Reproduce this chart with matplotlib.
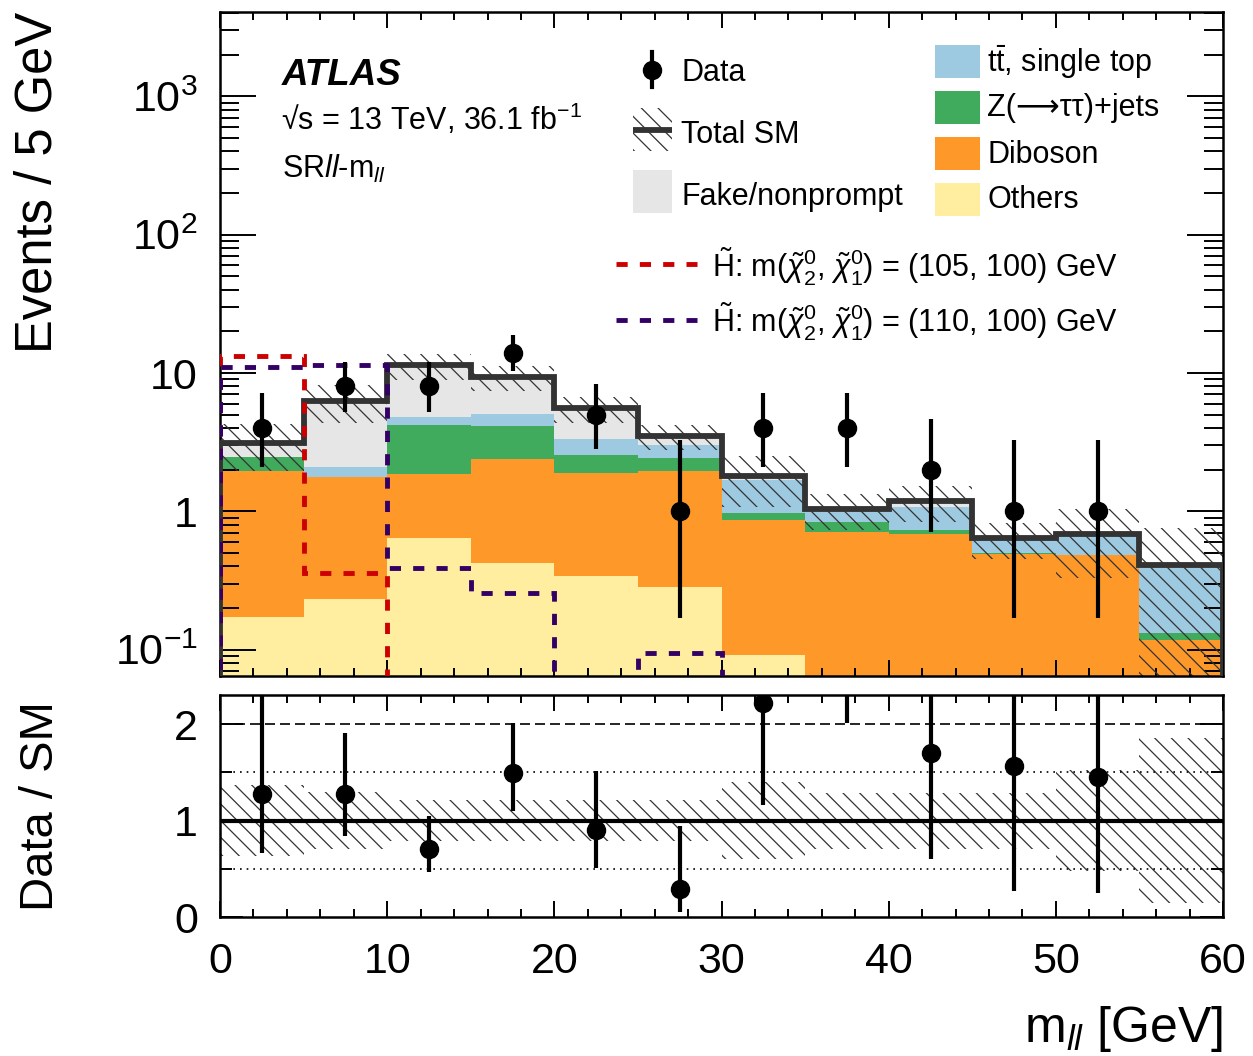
import numpy as np
import matplotlib
matplotlib.use('Agg')
import matplotlib.pyplot as plt
from matplotlib.patches import Rectangle
from matplotlib.ticker import FixedLocator, FixedFormatter, MultipleLocator, LogLocator, NullFormatter

plt.rcParams['font.family'] = ['Liberation Sans', 'DejaVu Sans']
plt.rcParams['mathtext.fontset'] = 'custom'
plt.rcParams['mathtext.rm'] = 'Liberation Sans'
plt.rcParams['mathtext.it'] = 'Liberation Sans:italic'
plt.rcParams['mathtext.bf'] = 'Liberation Sans:bold'
plt.rcParams['hatch.linewidth'] = 0.9

# --- data ---
edges = np.arange(0, 65, 5)  # m_ll bins [GeV]

others  = [0.171, 0.233, 0.64, 0.42, 0.34, 0.285, 0.09, 0.04, 0.04, 0.03, 0.03, 0.02]
diboson = [1.80, 1.55, 1.22, 1.97, 1.56, 1.68, 0.775, 0.665, 0.65, 0.46, 0.45, 0.096]
zjets   = [0.51, 0.0, 2.35, 1.77, 0.67, 0.45, 0.11, 0.13, 0.04, 0.005, 0.005, 0.015]
ttbar   = [0.0, 0.30, 0.62, 0.89, 0.75, 0.60, 0.70, 0.19, 0.35, 0.145, 0.205, 0.279]
fakes   = [0.65, 4.17, 6.52, 4.30, 2.23, 0.48, 0.125, 0.015, 0.10, 0.0, 0.0, 0.0]
sm_rel_unc = [0.37, 0.30, 0.21, 0.21, 0.21, 0.21, 0.40, 0.29, 0.29, 0.29, 0.52, 0.85]

data        = [4, 8, 8, 14, 5, 1, 4, 4, 2, 1, 1, 0]
data_err_lo = [1.91, 2.76, 2.76, 3.69, 2.16, 0.83, 1.91, 1.91, 1.29, 0.83, 0.83, 0.0]
data_err_hi = [3.16, 3.94, 3.94, 4.83, 3.38, 2.30, 3.16, 3.16, 2.64, 2.30, 2.30, 1.84]

sig_105 = [13.3, 0.358, 0, 0, 0, 0, 0, 0, 0, 0, 0, 0]
sig_110 = [11.1, 11.5, 0.391, 0.258, 0, 0.094, 0, 0, 0, 0, 0, 0]

# --- style ---
C_OTHERS = "#FFEDA0"
C_DIBOSON = "#FE9929"
C_ZJETS = "#41AB5D"
C_TTBAR = "#9ECAE1"
C_FAKES = "#E6E6E6"
C_TOTAL = "#333333"
C_SIG1 = "#CC0000"
C_SIG2 = "#330066"
FLOOR = 1e-3
HATCH = '\\\\'

centers = (edges[:-1] + edges[1:]) / 2
layers = [(others, C_OTHERS), (diboson, C_DIBOSON), (zjets, C_ZJETS),
          (ttbar, C_TTBAR), (fakes, C_FAKES)]
total = np.sum([np.array(l) for l, _ in layers], axis=0)
rel = np.array(sm_rel_unc)
data = np.array(data, dtype=float)
lo = np.array(data_err_lo)
hi = np.array(data_err_hi)
has_data = data > 0

fig = plt.figure(figsize=(12.53, 10.56), dpi=100)
ax = fig.add_axes([0.1756, 0.3598, 0.8005, 0.6288])
axr = fig.add_axes([0.1756, 0.1316, 0.8005, 0.2102])

# ===== main panel =====
bottom = np.full(len(total), FLOOR)
for vals, col in layers:
    top = bottom + np.array(vals)
    ax.stairs(top, edges, baseline=bottom, fill=True, color=col, lw=0, zorder=1)
    bottom = top

ax.stairs(total * (1 + rel), edges, baseline=total * (1 - rel), fill=True,
          facecolor='none', edgecolor=C_TOTAL, hatch=HATCH, lw=0, zorder=2)
ax.stairs(total, edges, baseline=FLOOR, color=C_TOTAL, lw=4.2, zorder=3)

for sig, col in [(sig_105, C_SIG1), (sig_110, C_SIG2)]:
    s = np.where(np.array(sig) > 0, sig, FLOOR)
    ax.stairs(s, edges, baseline=FLOOR, color=col, lw=3.5,
              linestyle=(0, (2.3, 2.5)), zorder=4)

ax.errorbar(centers[has_data], data[has_data],
            yerr=[lo[has_data], hi[has_data]], fmt='o', color='black',
            ms=13, elinewidth=3, capsize=0, zorder=6)

ax.set_yscale('log')
ax.set_xlim(0, 60)
ax.set_ylim(0.0645, 4070)
ax.yaxis.set_major_locator(FixedLocator([0.1, 1, 10, 100, 1000]))
ax.yaxis.set_major_formatter(FixedFormatter(['10$^{-1}$', '1', '10', '10$^{2}$', '10$^{3}$']))
ax.yaxis.set_minor_locator(LogLocator(base=10, subs=np.arange(2, 10), numticks=20))
ax.yaxis.set_minor_formatter(NullFormatter())
ax.xaxis.set_major_locator(MultipleLocator(10))
ax.xaxis.set_minor_locator(MultipleLocator(2))
ax.tick_params(which='both', direction='in', top=True, right=True, width=1.4)
ax.tick_params(axis='y', which='major', length=26, labelsize=31, pad=16)
ax.tick_params(axis='y', which='minor', length=13.5)
ax.tick_params(axis='x', which='major', length=11.5, labelbottom=False)
ax.tick_params(axis='x', which='minor', length=5.8)
for sp in ax.spines.values():
    sp.set_linewidth(1.8)
ax.set_ylabel('Events / 5 GeV', fontsize=36.5, loc='top')
ax.yaxis.set_label_coords(-0.157, 1.0)

# labels
ax.text(0.0618, 0.890, 'ATLAS', transform=ax.transAxes, fontsize=26.5,
        fontweight='bold', fontstyle='italic', va='baseline')
ax.text(0.061, 0.822, '√s = 13 TeV, 36.1 fb$^{-1}$', transform=ax.transAxes,
        fontsize=22, va='baseline')
ax.text(0.062, 0.750, r'SR$\mathit{ll}$-m$_{\mathit{ll}}$', transform=ax.transAxes,
        fontsize=22, va='baseline')

# legend, drawn by hand to match the layout
LFS = 22
tx = ax.transAxes
ax.plot([0.4307], [0.9127], 'o', color='black', ms=13, transform=tx, clip_on=False, zorder=7)
ax.plot([0.4307, 0.4307], [0.8870, 0.9398], color='black', lw=3, transform=tx, clip_on=False, zorder=7)
ax.text(0.4596, 0.8961, 'Data', transform=tx, fontsize=LFS, va='baseline')

ax.add_patch(Rectangle((0.4118, 0.7907), 0.0389, 0.0648, transform=tx, facecolor='none',
                       edgecolor=C_TOTAL, hatch=HATCH, lw=0, clip_on=False, zorder=7))
ax.plot([0.4118, 0.4507], [0.8223, 0.8223], color=C_TOTAL, lw=4.2, transform=tx,
        clip_on=False, zorder=7, solid_capstyle='butt')
ax.text(0.4596, 0.8027, 'Total SM', transform=tx, fontsize=LFS, va='baseline')

ax.add_patch(Rectangle((0.4118, 0.6973), 0.0389, 0.0648, transform=tx, facecolor=C_FAKES,
                       lw=0, clip_on=False, zorder=7))
ax.text(0.4596, 0.7093, 'Fake/nonprompt', transform=tx, fontsize=LFS, va='baseline')

right_entries = [(C_TTBAR, r't$\bar{\mathrm{t}}$, single top', 0.9006, 0.9096),
                 (C_ZJETS, 'Z(⟶ττ)+jets', 0.8313, 0.8434),
                 (C_DIBOSON, 'Diboson', 0.7620, 0.7726),
                 (C_OTHERS, 'Others', 0.6928, 0.7048)]
for col, lab, yb, yt in right_entries:
    ax.add_patch(Rectangle((0.7129, yb), 0.0449, 0.0497, transform=tx, facecolor=col,
                           lw=0, clip_on=False, zorder=7))
    ax.text(0.7647, yt, lab, transform=tx, fontsize=LFS, va='baseline')

sig_entries = [(C_SIG1, '105', 0.6200, 0.6009), (C_SIG2, '110', 0.5361, 0.5181)]
for col, m2, yl, yt in sig_entries:
    ax.plot([0.3948, 0.4756], [yl, yl], color=col, lw=3.5, linestyle=(0, (2.3, 2.5)),
            transform=tx, clip_on=False, zorder=7)
    ax.text(0.4905, yt,
            r'$\tilde{\mathrm{H}}$: m($\tilde{\chi}_{2}^{0}$, $\tilde{\chi}_{1}^{0}$) = (' + m2 + ', 100) GeV',
            transform=tx, fontsize=LFS, va='baseline')

# ===== ratio panel =====
axr.stairs(1 + rel, edges, baseline=1 - rel, fill=True, facecolor='none',
           edgecolor=C_TOTAL, hatch=HATCH, lw=0, zorder=1)
axr.axhline(1, color='black', lw=3, zorder=2)
axr.axhline(2, color='black', lw=1.2, linestyle=(0, (6, 3)), zorder=2)
axr.axhline(1.5, color='black', lw=1.2, linestyle=(0, (1, 3)), zorder=2)
axr.axhline(0.5, color='black', lw=1.2, linestyle=(0, (1, 3)), zorder=2)

ratio = data / total
axr.errorbar(centers[has_data], ratio[has_data],
             yerr=[lo[has_data] / total[has_data], hi[has_data] / total[has_data]],
             fmt='o', color='black', ms=13, elinewidth=3, capsize=0, zorder=5)

axr.set_xlim(0, 60)
axr.set_ylim(0, 2.3)
axr.xaxis.set_major_locator(MultipleLocator(10))
axr.xaxis.set_minor_locator(MultipleLocator(2))
axr.yaxis.set_major_locator(MultipleLocator(1))
axr.yaxis.set_minor_locator(MultipleLocator(0.5))
axr.tick_params(which='both', direction='in', top=True, right=True, width=1.4)
axr.tick_params(axis='x', which='major', length=11.5, labelsize=31, pad=18)
axr.tick_params(axis='x', which='minor', length=5.8)
axr.tick_params(axis='y', which='major', length=16.5, labelsize=31, pad=16)
axr.tick_params(axis='y', which='minor', length=8.6)
for sp in axr.spines.values():
    sp.set_linewidth(1.8)
axr.set_ylabel('Data / SM', fontsize=34)
axr.yaxis.set_label_coords(-0.157, 0.5)
axr.set_xlabel(r'm$_{\mathit{ll}}$ [GeV]', fontsize=36, loc='right')
axr.xaxis.set_label_coords(1.0, -0.39)

fig.savefig('out.png', dpi=100)
